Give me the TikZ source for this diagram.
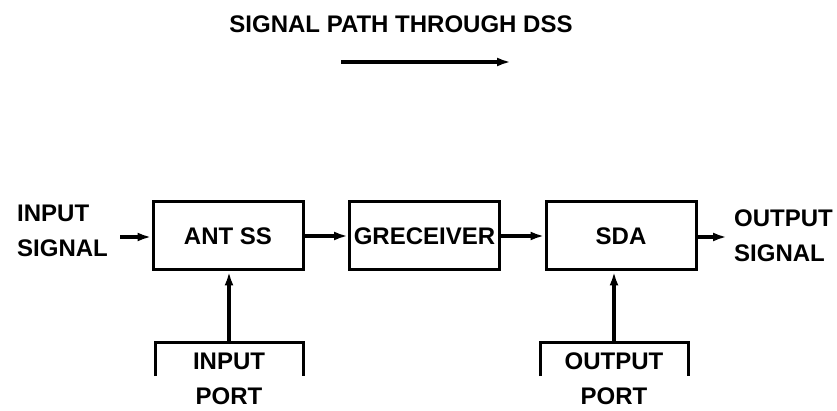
\documentclass[tikz,border=0pt]{standalone}
\usepackage{fontspec}
\setmainfont{Liberation Sans}
\usepackage{tikz}
\usetikzlibrary{positioning,arrows.meta,calc}

\begin{document}
\begin{tikzpicture}[
  x=1pt, y=-1pt,
  node distance=43.5pt,
  txt/.style={font=\fontsize{24}{35}\selectfont\bfseries, inner sep=0pt},
  box/.style={txt, draw, line width=3pt, minimum height=68pt, minimum width=150pt, align=center},
  lbl/.style={txt, align=left},
  port/.style={txt, align=center},
  arr/.style={-{Latex[length=14pt,width=9pt]}, line width=3.4pt},
  brk/.style={line width=3pt}]
  \useasboundingbox (0,0) rectangle (837,411);
  % title and direction arrow
  \node[txt] (title) at (401,24) {SIGNAL PATH THROUGH DSS};
  \coordinate (dirA) at (341,62);
  \coordinate (dirB) at (511,62);
  \draw[arr] (dirA) -- (dirB);
  % main chain
  \node[box] (ant) at (228,236) {ANT SS};
  \node[box, right=of ant] (rec) {GRECEIVER};
  \node[box, right=of rec] (sda) {SDA};
  \node[lbl, anchor=west] (insig) at (17,231) {INPUT\\SIGNAL};
  \node[lbl, anchor=west] (outsig) at (734,236) {OUTPUT\\SIGNAL};
  \coordinate (inA) at (120,237);
  \coordinate (outB) at (727,237);
  \draw[arr] (inA) -- (inA -| ant.west);
  \draw[arr] (ant) -- (rec);
  \draw[arr] (rec) -- (sda);
  \draw[arr] (outB -| sda.east) -- (outB);
  % ports
  \coordinate (intop) at (229,342);
  \coordinate (outtop) at (614,342);
  \node[port] (inport) at (229,379) {INPUT\\PORT};
  \node[port] (outport) at (614,379) {OUTPUT\\PORT};
  \draw[brk] ($(intop)+(-74,34)$) |- (intop) -| ($(intop)+(74,34)$);
  \draw[brk] ($(outtop)+(-74,34)$) |- (outtop) -| ($(outtop)+(74,34)$);
  \draw[arr] (intop) -- (intop |- ant.south);
  \draw[arr] (outtop) -- (outtop |- sda.south);
\end{tikzpicture}
\end{document}
